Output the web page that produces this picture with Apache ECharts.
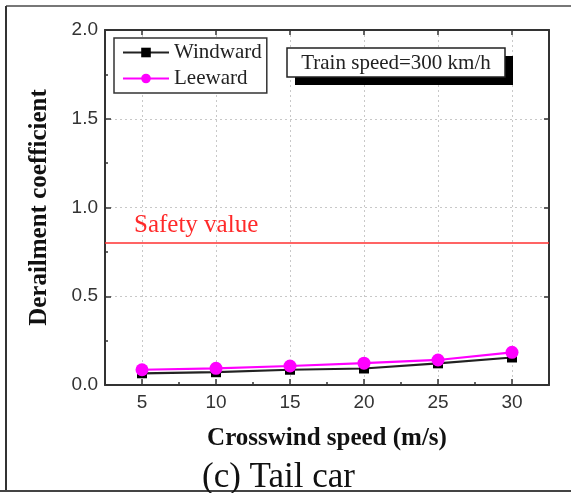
<!DOCTYPE html>
<html>
<head>
<meta charset="utf-8">
<title>Derailment coefficient - Tail car</title>
<script src="https://cdn.jsdelivr.net/npm/echarts@6/dist/echarts.min.js"></script>
<style>
  html, body { margin: 0; padding: 0; background: #ffffff; }
  #chart { width: 571px; height: 493px; }
</style>
</head>
<body>
<div id="chart"></div>
<script>
// Crosswind speeds (m/s) along the x axis
const windSpeeds = [5, 10, 15, 20, 25, 30];
// Derailment coefficient of the tail car, windward and leeward wheels
const windward = [0.066, 0.072, 0.086, 0.093, 0.122, 0.155];
const leeward = [0.086, 0.094, 0.107, 0.123, 0.141, 0.184];
// Allowed limit for the derailment coefficient
const safetyValue = 0.8;
// Tick values
const xTicks = [5, 10, 15, 20, 25, 30];

const serif = '"Liberation Serif", "Times New Roman", serif';
const sans = '"Liberation Sans", Arial, sans-serif';

const chart = echarts.init(document.getElementById('chart'), null, { renderer: 'canvas' });

const pairs = (ys) => windSpeeds.map((x, i) => [x, ys[i]]);

const dashedGrid = { show: true, lineStyle: { color: '#c8c8c8', type: [2, 3], width: 1 } };

chart.setOption({
  animation: false,
  backgroundColor: '#ffffff',
  title: {
    text: '(c) Tail car',
    left: 202,
    top: 460,
    padding: 0,
    textStyle: { fontFamily: serif, fontSize: 35, fontWeight: 'normal', color: '#111' }
  },
  grid: { left: 105, right: 22, top: 30, bottom: 108, containLabel: false },
  legend: {
    orient: 'vertical',
    left: 114,
    top: 38,
    padding: [4, 5, 4, 8],
    itemGap: 5,
    itemWidth: 46,
    itemHeight: 12,
    borderColor: '#333',
    borderWidth: 1.5,
    backgroundColor: '#fff',
    textStyle: { fontFamily: serif, fontSize: 21, color: '#222' },
    data: ['Windward', 'Leeward']
  },
  xAxis: [
    {
      type: 'value',
      position: 'bottom',
      min: 2.5, max: 32.5, interval: 2.5,
      name: 'Crosswind speed (m/s)',
      nameLocation: 'middle',
      nameGap: 41,
      nameTextStyle: { fontFamily: serif, fontSize: 25, fontWeight: 'bold', color: '#111' },
      axisLine: { show: true, lineStyle: { color: '#333', width: 2 } },
      axisTick: { show: true, inside: true, length: 6, customValues: xTicks, lineStyle: { color: '#333', width: 1.5 } },
      axisLabel: { customValues: xTicks, fontFamily: sans, fontSize: 19, color: '#333', margin: 8 },
      splitLine: dashedGrid
    },
    {
      type: 'value',
      position: 'bottom',
      min: 2.5, max: 32.5, interval: 2.5,
      axisLine: { show: false },
      axisTick: { show: true, inside: true, length: 3, lineStyle: { color: '#333', width: 1.5 } },
      axisLabel: { show: false },
      splitLine: { show: false }
    },
    {
      type: 'value',
      position: 'top',
      min: 2.5, max: 32.5, interval: 2.5,
      axisLine: { show: true, lineStyle: { color: '#333', width: 2 } },
      axisTick: { show: true, inside: true, length: 5, customValues: xTicks, lineStyle: { color: '#333', width: 1.5 } },
      axisLabel: { show: false },
      splitLine: { show: false }
    }
  ],
  yAxis: [
    {
      type: 'value',
      position: 'left',
      min: 0, max: 2, interval: 0.5,
      name: 'Derailment coefficient',
      nameLocation: 'middle',
      nameGap: 53,
      nameTextStyle: { fontFamily: serif, fontSize: 25, fontWeight: 'bold', color: '#111' },
      axisLine: { show: true, lineStyle: { color: '#333', width: 2 } },
      axisTick: { show: true, inside: true, length: 6, lineStyle: { color: '#333', width: 1.5 } },
      minorTick: { show: true, splitNumber: 2, length: 3, lineStyle: { color: '#333', width: 1.5 } },
      axisLabel: { fontFamily: sans, fontSize: 19, color: '#333', margin: 7, formatter: (v) => v.toFixed(1) },
      splitLine: dashedGrid
    },
    {
      type: 'value',
      position: 'right',
      min: 0, max: 2, interval: 0.5,
      axisLine: { show: true, lineStyle: { color: '#333', width: 2 } },
      axisTick: { show: true, inside: true, length: 5, lineStyle: { color: '#333', width: 1.5 } },
      axisLabel: { show: false },
      splitLine: { show: false }
    }
  ],
  series: [
    {
      name: 'Windward',
      type: 'line',
      xAxisIndex: 0, yAxisIndex: 0,
      data: pairs(windward),
      symbol: 'rect',
      symbolSize: 10,
      lineStyle: { color: '#222', width: 2.2 },
      itemStyle: { color: '#000' },
      z: 3,
      markLine: {
        silent: true,
        symbol: 'none',
        lineStyle: { color: '#ff3030', width: 1.5, type: 'solid' },
        label: {
          show: true,
          position: 'insideStartTop',
          distance: [29, 5],
          formatter: 'Safety value',
          fontFamily: serif,
          fontSize: 25,
          color: '#ff2a2a'
        },
        data: [{ yAxis: safetyValue }]
      }
    },
    {
      name: 'Leeward',
      type: 'line',
      xAxisIndex: 0, yAxisIndex: 0,
      data: pairs(leeward),
      symbol: 'circle',
      symbolSize: 13,
      lineStyle: { color: '#ff00ff', width: 2.2 },
      itemStyle: { color: '#ff00ff' },
      z: 4
    }
  ],
  graphic: [
    // outer frame
    { type: 'line', shape: { x1: 6, y1: 6, x2: 571, y2: 6 }, style: { stroke: '#777', lineWidth: 2 } },
    { type: 'line', shape: { x1: 6, y1: 6, x2: 6, y2: 491 }, style: { stroke: '#333', lineWidth: 2 } },
    { type: 'line', shape: { x1: 0, y1: 491, x2: 571, y2: 491 }, style: { stroke: '#444', lineWidth: 2 } },
    // train speed annotation with drop shadow
    { type: 'rect', shape: { x: 295, y: 56, width: 218, height: 29 }, style: { fill: '#000' }, z: 10 },
    { type: 'rect', shape: { x: 287, y: 48, width: 218, height: 29 }, style: { fill: '#fff', stroke: '#222', lineWidth: 1.5 }, z: 11 },
    {
      type: 'text', x: 396, y: 63, z: 12,
      style: { text: 'Train speed=300 km/h', font: '21px ' + serif, fill: '#222', align: 'center', verticalAlign: 'middle' }
    }
  ]
});
</script>
</body>
</html>
